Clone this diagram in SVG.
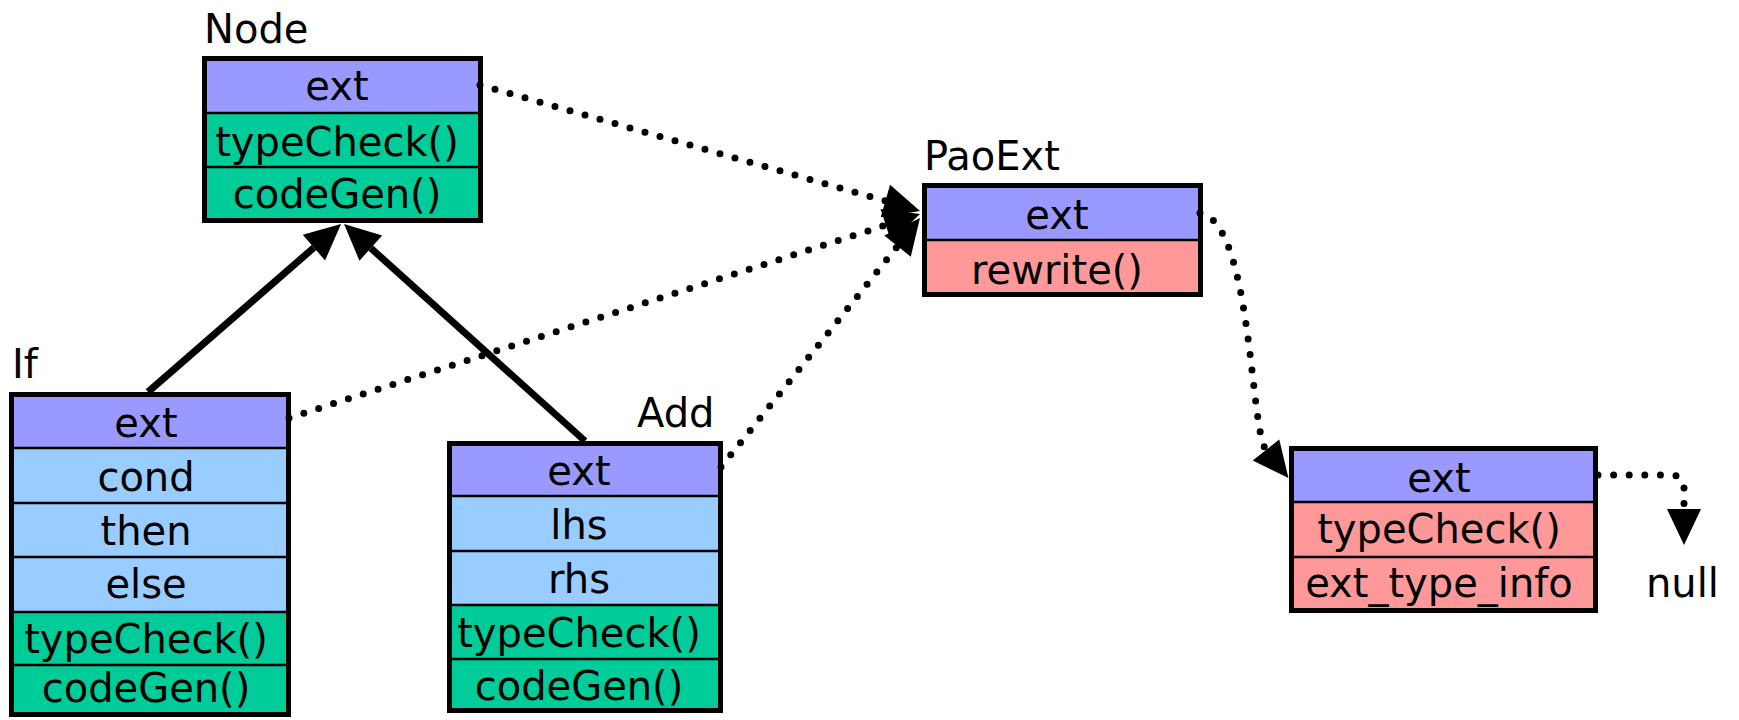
<svg xmlns="http://www.w3.org/2000/svg" width="1739" height="720" viewBox="0 0 1739 720">
  <style>
    text { font-family: "DejaVu Sans", "Liberation Sans", sans-serif; font-size: 40px; fill: #000; }
    .c { text-anchor: middle; }
    .ext { fill: #9999FF; }
    .field { fill: #99CCFF; }
    .meth { fill: #00CC99; }
    .pink { fill: #FF9999; }
    .frame { fill: none; stroke: #000; stroke-width: 5; }
    .div { stroke: #000; stroke-width: 2.5; }
    .inherit { fill: none; stroke: #000; stroke-width: 7; }
    .ref { fill: none; stroke: #000; stroke-width: 7; stroke-linecap: round; stroke-dasharray: 0 15.6; }
  </style>
  <defs>
    <marker id="head" markerUnits="userSpaceOnUse" markerWidth="40" markerHeight="40" refX="0" refY="0" orient="auto" overflow="visible">
      <path d="M0,-17 L36,0 L0,17 Z" fill="#000" stroke="none"/>
    </marker>
  </defs>

  <!-- class Node -->
  <g id="node-Node">
    <rect class="ext" x="204.5" y="58.5" width="276" height="54.5"/>
    <rect class="meth" x="204.5" y="113" width="276" height="107.5"/>
    <line class="div" x1="204.5" y1="113" x2="480.5" y2="113"/>
    <line class="div" x1="204.5" y1="167" x2="480.5" y2="167"/>
    <rect class="frame" x="204.5" y="58.5" width="276" height="162"/>
    <text x="204" y="43">Node</text>
    <text class="c" x="337" y="100">ext</text>
    <text class="c" x="337" y="156">typeCheck()</text>
    <text class="c" x="337" y="208">codeGen()</text>
  </g>

  <!-- class If -->
  <g id="node-If">
    <rect class="ext" x="11.5" y="394.5" width="277" height="53.5"/>
    <rect class="field" x="11.5" y="448" width="277" height="164"/>
    <rect class="meth" x="11.5" y="612" width="277" height="102.5"/>
    <line class="div" x1="11.5" y1="448" x2="288.5" y2="448"/>
    <line class="div" x1="11.5" y1="503" x2="288.5" y2="503"/>
    <line class="div" x1="11.5" y1="557" x2="288.5" y2="557"/>
    <line class="div" x1="11.5" y1="612" x2="288.5" y2="612"/>
    <line class="div" x1="11.5" y1="665" x2="288.5" y2="665"/>
    <rect class="frame" x="11.5" y="394.5" width="277" height="320"/>
    <text x="12" y="378">If</text>
    <text class="c" x="146" y="437">ext</text>
    <text class="c" x="146" y="491">cond</text>
    <text class="c" x="146" y="545">then</text>
    <text class="c" x="146" y="598">else</text>
    <text class="c" x="146" y="653">typeCheck()</text>
    <text class="c" x="146" y="702">codeGen()</text>
  </g>

  <!-- class Add -->
  <g id="node-Add">
    <rect class="ext" x="449.5" y="443.5" width="271" height="52.5"/>
    <rect class="field" x="449.5" y="496" width="271" height="109"/>
    <rect class="meth" x="449.5" y="605" width="271" height="105.5"/>
    <line class="div" x1="449.5" y1="496" x2="720.5" y2="496"/>
    <line class="div" x1="449.5" y1="551" x2="720.5" y2="551"/>
    <line class="div" x1="449.5" y1="605" x2="720.5" y2="605"/>
    <line class="div" x1="449.5" y1="659" x2="720.5" y2="659"/>
    <rect class="frame" x="449.5" y="443.5" width="271" height="267"/>
    <text x="637" y="427">Add</text>
    <text class="c" x="579" y="485">ext</text>
    <text class="c" x="579" y="539">lhs</text>
    <text class="c" x="579" y="593">rhs</text>
    <text class="c" x="579" y="647">typeCheck()</text>
    <text class="c" x="579" y="700">codeGen()</text>
  </g>

  <!-- extension object PaoExt -->
  <g id="node-PaoExt">
    <rect class="ext" x="924.5" y="185.5" width="276" height="54.5"/>
    <rect class="pink" x="924.5" y="240" width="276" height="54.5"/>
    <line class="div" x1="924.5" y1="240" x2="1200.5" y2="240"/>
    <rect class="frame" x="924.5" y="185.5" width="276" height="109"/>
    <text x="924" y="170">PaoExt</text>
    <text class="c" x="1057" y="229">ext</text>
    <text class="c" x="1057" y="284">rewrite()</text>
  </g>

  <!-- chained extension object -->
  <g id="node-TypeExt">
    <rect class="ext" x="1291.5" y="448.5" width="304" height="53.5"/>
    <rect class="pink" x="1291.5" y="502" width="304" height="108.5"/>
    <line class="div" x1="1291.5" y1="502" x2="1595.5" y2="502"/>
    <line class="div" x1="1291.5" y1="557" x2="1595.5" y2="557"/>
    <rect class="frame" x="1291.5" y="448.5" width="304" height="162"/>
    <text class="c" x="1439" y="492">ext</text>
    <text class="c" x="1439" y="543">typeCheck()</text>
    <text class="c" x="1439" y="597">ext_type_info</text>
  </g>

  <g id="node-null">
    <text x="1646" y="597">null</text>
  </g>

  <!-- connectors -->
  <g id="connectors">
    <!-- inheritance -->
    <line class="inherit" x1="148" y1="392" x2="313.9" y2="247.6" marker-end="url(#head)"/>
    <line class="inherit" x1="585" y1="441" x2="370.8" y2="248.1" marker-end="url(#head)"/>
    <!-- ext references -->
    <line class="ref" x1="480" y1="85" x2="885.4" y2="201" marker-end="url(#head)"/>
    <line class="ref" x1="289" y1="418" x2="885.8" y2="225.1" marker-end="url(#head)"/>
    <line class="ref" x1="721" y1="467" x2="897.5" y2="246.1" marker-end="url(#head)"/>
    <path class="ref" d="M1200,213 C1252,222 1250,430 1266,450" marker-end="url(#head)"/>
    <path class="ref" d="M1598,475 L1670,475 Q1684,475 1684,489 L1684,509" marker-end="url(#head)"/>
  </g>
</svg>
